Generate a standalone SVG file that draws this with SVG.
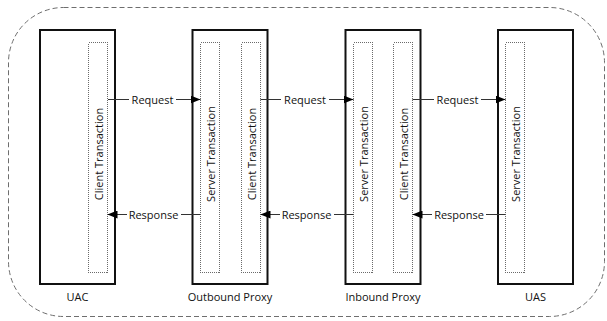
<svg xmlns="http://www.w3.org/2000/svg" width="607" height="321" viewBox="0 0 607 321">
  <style>
    .frame { fill: none; stroke: #6e6e6e; stroke-width: 1; stroke-dasharray: 5 3; }
    .box { fill: #ffffff; stroke: #111111; stroke-width: 2; }
    .txn { fill: #ffffff; stroke: #6a6a6a; stroke-width: 1; stroke-dasharray: 1 1; shape-rendering: crispEdges; }
    .lbl { font-family: "Open Sans", "DejaVu Sans", sans-serif; font-size: 11px; fill: #111111; }
    .vt { text-anchor: middle; dominant-baseline: central; }
    .mid { text-anchor: middle; }
    .link { stroke: #333333; stroke-width: 1; fill: none; }
  </style>
  <defs>
    <marker id="arrow" viewBox="0 0 10 8" refX="10" refY="4" markerWidth="10" markerHeight="8" markerUnits="userSpaceOnUse" orient="auto">
      <path d="M0,0 L10,4 L0,8 Z" fill="#000000"/>
    </marker>
  </defs>

  <!-- dashed boundary around all elements -->
  <rect class="frame" x="8.5" y="7.5" width="596" height="309" rx="55" ry="55"/>

  <g id="uac">
    <rect class="box" x="40" y="30" width="75" height="254"/>
    <rect class="txn" x="88.5" y="42.5" width="19" height="230"/>
    <text class="lbl vt" transform="translate(98,154) rotate(-90)">Client Transaction</text>
    <text class="lbl mid" x="77.5" y="301">UAC</text>
  </g>

  <g id="outbound-proxy">
    <rect class="box" x="192.5" y="30" width="75" height="254"/>
    <rect class="txn" x="200.5" y="42.5" width="19" height="230"/>
    <text class="lbl vt" transform="translate(210,154) rotate(-90)">Server Transaction</text>
    <rect class="txn" x="241.5" y="42.5" width="19" height="230"/>
    <text class="lbl vt" transform="translate(251,154) rotate(-90)">Client Transaction</text>
    <text class="lbl mid" x="230" y="301">Outbound Proxy</text>
  </g>

  <g id="inbound-proxy">
    <rect class="box" x="345.5" y="30" width="75" height="254"/>
    <rect class="txn" x="353.5" y="42.5" width="19" height="230"/>
    <text class="lbl vt" transform="translate(363,154) rotate(-90)">Server Transaction</text>
    <rect class="txn" x="393.5" y="42.5" width="19" height="230"/>
    <text class="lbl vt" transform="translate(403,154) rotate(-90)">Client Transaction</text>
    <text class="lbl mid" x="383" y="301">Inbound Proxy</text>
  </g>

  <g id="uas">
    <rect class="box" x="498" y="30" width="75" height="254"/>
    <rect class="txn" x="505.5" y="42.5" width="19" height="230"/>
    <text class="lbl vt" transform="translate(515,154) rotate(-90)">Server Transaction</text>
    <text class="lbl mid" x="535.5" y="301">UAS</text>
  </g>

  <g id="connectors">
    <!-- requests, left to right -->
    <line class="link" x1="108" y1="99.5" x2="129" y2="99.5"/>
    <line class="link" x1="176" y1="99.5" x2="200.5" y2="99.5" marker-end="url(#arrow)"/>
    <text class="lbl mid" x="152.5" y="103.5">Request</text>

    <line class="link" x1="260.5" y1="99.5" x2="281" y2="99.5"/>
    <line class="link" x1="329" y1="99.5" x2="353.5" y2="99.5" marker-end="url(#arrow)"/>
    <text class="lbl mid" x="305" y="103.5">Request</text>

    <line class="link" x1="412.5" y1="99.5" x2="434" y2="99.5"/>
    <line class="link" x1="481" y1="99.5" x2="505.5" y2="99.5" marker-end="url(#arrow)"/>
    <text class="lbl mid" x="457.5" y="103.5">Request</text>

    <!-- responses, right to left -->
    <line class="link" x1="200.5" y1="214.5" x2="181" y2="214.5"/>
    <line class="link" x1="127" y1="214.5" x2="107.5" y2="214.5" marker-end="url(#arrow)"/>
    <text class="lbl mid" x="153.5" y="218.5">Response</text>

    <line class="link" x1="353.5" y1="214.5" x2="334" y2="214.5"/>
    <line class="link" x1="280" y1="214.5" x2="260.5" y2="214.5" marker-end="url(#arrow)"/>
    <text class="lbl mid" x="306.5" y="218.5">Response</text>

    <line class="link" x1="505.5" y1="214.5" x2="486" y2="214.5"/>
    <line class="link" x1="432" y1="214.5" x2="412.5" y2="214.5" marker-end="url(#arrow)"/>
    <text class="lbl mid" x="459" y="218.5">Response</text>
  </g>
</svg>
